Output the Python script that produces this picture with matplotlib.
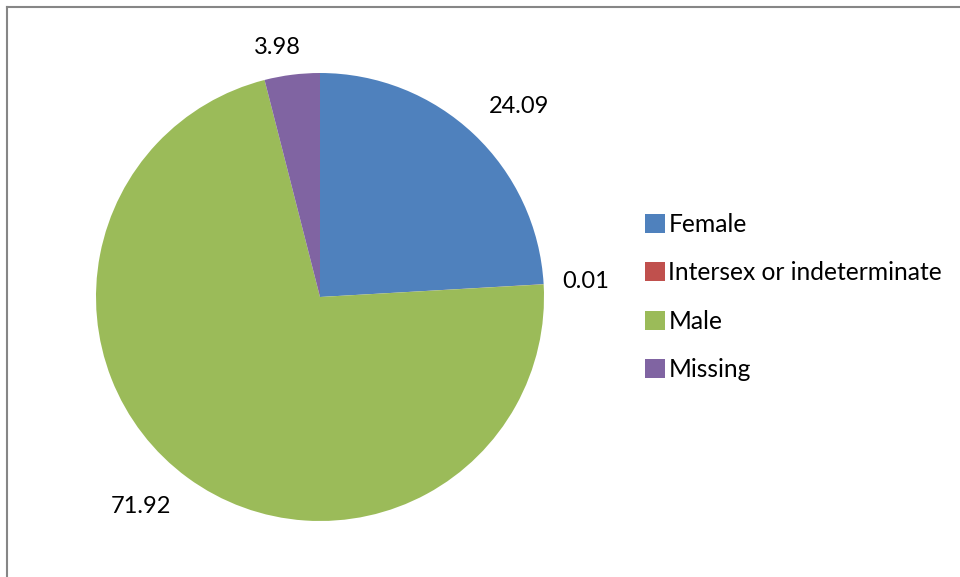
import numpy as np
import matplotlib.pyplot as plt
from matplotlib.lines import Line2D
from matplotlib.patches import Patch

plt.rcParams['font.family'] = ['Lato', 'DejaVu Sans']

labels = ["Female", "Intersex or indeterminate", "Male", "Missing"]
values = [24.09, 0.01, 71.92, 3.98]
colors = ["#4F81BD", "#C0504D", "#9BBB59", "#8064A2"]
# data label placement (distance in radii, angle nudge in degrees)
label_dist = [1.23, 1.19, 1.23, 1.13]
label_nudge = [-3.0, 0.0, -4.4, 2.6]

W, H = 960, 577
fig = plt.figure(figsize=(9.6, 5.77), dpi=100)

# pie centre ~(320, 297) px, radius ~224 px
R = 224
lim = 1.3
side = 2 * lim * R
ax = fig.add_axes([(320 - side / 2) / W, ((H - 297) - side / 2) / H, side / W, side / H])
wedges, _ = ax.pie(values, colors=colors, startangle=90, counterclock=False, radius=1)
ax.set_xlim(-lim, lim)
ax.set_ylim(-lim, lim)
ax.set_aspect("equal")
ax.axis("off")

for w, v, d, n in zip(wedges, values, label_dist, label_nudge):
    ang = np.deg2rad((w.theta1 + w.theta2) / 2 + n)
    ax.text(d * np.cos(ang), d * np.sin(ang), f"{v:.2f}", ha="center", va="center", fontsize=17)

handles = [Patch(facecolor=c, edgecolor="none") for c in colors]
fig.legend(handles, labels, loc="center left", bbox_to_anchor=(645 / W, 1 - 297 / H),
           frameon=False, fontsize=17.7, handlelength=0.8, handleheight=0.8,
           handletextpad=0.15, labelspacing=1.03, borderpad=0, borderaxespad=0)

# chart border (top and left visible)
fig.add_artist(Line2D([7 / W, 1], [1 - 7 / H, 1 - 7 / H], color="#868686", lw=1.5))
fig.add_artist(Line2D([7 / W, 7 / W], [0, 1 - 7 / H], color="#868686", lw=1.5))

fig.savefig("out.png", dpi=100)
